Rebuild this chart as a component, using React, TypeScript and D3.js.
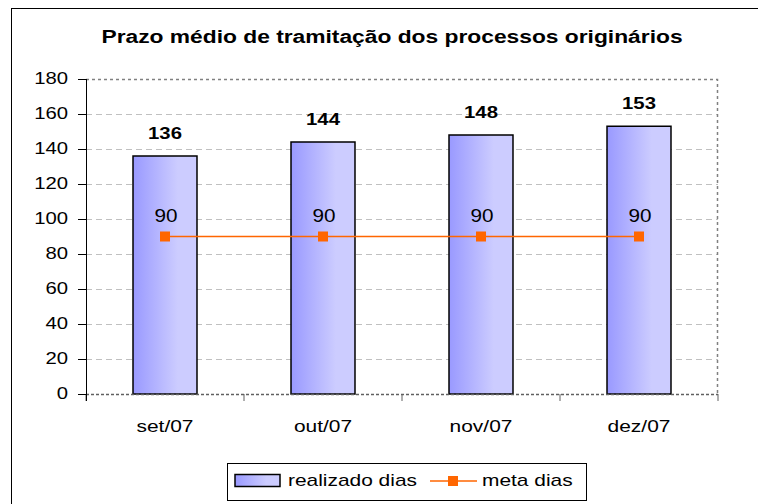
import React from "react";
import * as d3 from "d3";

const title = "Prazo médio de tramitação dos processos originários";
const months = ["set/07", "out/07", "nov/07", "dez/07"];
const realizado = [136, 144, 148, 153];
const meta = [90, 90, 90, 90];
const yTicks = [0, 20, 40, 60, 80, 100, 120, 140, 160, 180];

const W = 758;
const H = 504;
const plot = { left: 86, right: 718, top: 79, bottom: 394 };
const font = "Arial, 'Liberation Sans', sans-serif";
// the source text is drawn a bit wider than the font, so stretch it
const SX = 1.23;

type TProps = {
  x: number;
  y: number;
  size: number;
  bold?: boolean;
  anchor?: "start" | "middle" | "end";
  dy?: string;
  sx?: number;
  children: React.ReactNode;
};

const T = ({ x, y, size, bold, anchor = "start", dy, sx = SX, children }: TProps) => (
  <text
    transform={`translate(${x},${y}) scale(${sx},1)`}
    fontSize={size}
    fontWeight={bold ? "bold" : "normal"}
    textAnchor={anchor}
    dy={dy}
    fill="#000"
  >
    {children}
  </text>
);

export default function App() {
  const x = d3
    .scaleBand<string>()
    .domain(months)
    .range([plot.left, plot.right])
    .paddingInner(0.595)
    .paddingOuter(0.2975);
  const step = (plot.right - plot.left) / months.length;
  const y = d3.scaleLinear().domain([0, 180]).range([plot.bottom, plot.top]);
  const cx = (m: string) => (x(m) ?? 0) + x.bandwidth() / 2;

  const metaLine = d3
    .line<number>()
    .x((_, i) => cx(months[i]))
    .y((d) => y(d));

  return (
    <svg
      width={W}
      height={H}
      style={{ position: "absolute", left: 0, top: 0, fontFamily: font }}
    >
      <defs>
        <linearGradient id="barGrad" x1="0" x2="1" y1="0" y2="0">
          <stop offset="0%" stopColor="#9999ff" />
          <stop offset="70%" stopColor="#ccccff" />
          <stop offset="100%" stopColor="#ccccff" />
        </linearGradient>
      </defs>
      <rect width={W} height={H} fill="#fff" />
      <rect x={11.5} y={8.5} width={W + 10} height={H + 10} fill="none" stroke="#000" />

      <T x={392} y={43} size={19} bold anchor="middle" sx={1.2}>
        {title}
      </T>

      {/* grid */}
      {yTicks.slice(1, -1).map((t) => (
        <line
          key={t}
          x1={plot.left}
          x2={plot.right}
          y1={Math.round(y(t)) + 0.5}
          y2={Math.round(y(t)) + 0.5}
          stroke="#c0c0c0"
          strokeDasharray="6,4"
        />
      ))}
      {/* plot border top/right */}
      <path
        d={`M${plot.left},${plot.top + 0.5}H${plot.right - 0.5}V${plot.bottom}`}
        fill="none"
        stroke="#808080"
        strokeWidth={1.5}
        strokeDasharray="3,3"
      />

      {/* bars */}
      {months.map((m, i) => (
        <rect
          key={m}
          x={x(m)}
          y={y(realizado[i])}
          width={x.bandwidth()}
          height={y(0) - y(realizado[i])}
          fill="url(#barGrad)"
          stroke="#000"
          strokeWidth={1.5}
        />
      ))}
      {months.map((m, i) => (
        <T key={m} x={cx(m)} y={y(realizado[i]) - 17} size={16.5} bold anchor="middle">
          {realizado[i]}
        </T>
      ))}

      {/* x axis */}
      <line
        x1={plot.left}
        x2={plot.right}
        y1={plot.bottom + 0.5}
        y2={plot.bottom + 0.5}
        stroke="#606060"
        strokeWidth={1.5}
        strokeDasharray="3,2"
      />
      {d3.range(months.length + 1).map((i) => (
        <line
          key={i}
          x1={plot.left + i * step}
          x2={plot.left + i * step}
          y1={plot.bottom}
          y2={plot.bottom + 7}
          stroke="#606060"
        />
      ))}
      {months.map((m) => (
        <T key={m} x={cx(m)} y={432} size={17} anchor="middle">
          {m}
        </T>
      ))}

      {/* y axis */}
      <line
        x1={plot.left + 0.5}
        x2={plot.left + 0.5}
        y1={plot.top}
        y2={plot.bottom + 7}
        stroke="#000"
      />
      {yTicks.map((t) => (
        <g key={t}>
          <line
            x1={plot.left - 8}
            x2={plot.left}
            y1={Math.round(y(t)) + 0.5}
            y2={Math.round(y(t)) + 0.5}
            stroke="#000"
          />
          <T x={plot.left - 18} y={y(t) - 1} size={16.5} anchor="end" dy="0.35em">
            {t}
          </T>
        </g>
      ))}

      {/* meta line */}
      <path d={metaLine(meta) ?? ""} fill="none" stroke="#ff6600" strokeWidth={1.5} />
      {months.map((m, i) => (
        <rect
          key={m}
          x={cx(m) - 5}
          y={y(meta[i]) - 5}
          width={10}
          height={10}
          fill="#ff6600"
        />
      ))}
      {months.map((m, i) => (
        <T key={m} x={cx(m) + 1} y={y(meta[i]) - 15} size={18} anchor="middle" sx={1.15}>
          {meta[i]}
        </T>
      ))}

      {/* legend */}
      <rect x={227.5} y={463.5} width={359} height={37} fill="#fff" stroke="#000" />
      <rect
        x={235}
        y={474.5}
        width={45}
        height={12}
        fill="url(#barGrad)"
        stroke="#000"
        strokeWidth={1.5}
      />
      <T x={288} y={486} size={17}>
        realizado dias
      </T>
      <line x1={430} x2={477} y1={481} y2={481} stroke="#ff6600" strokeWidth={1.5} />
      <rect x={448} y={476} width={10} height={10} fill="#ff6600" />
      <T x={482} y={486} size={17}>
        meta dias
      </T>
    </svg>
  );
}
